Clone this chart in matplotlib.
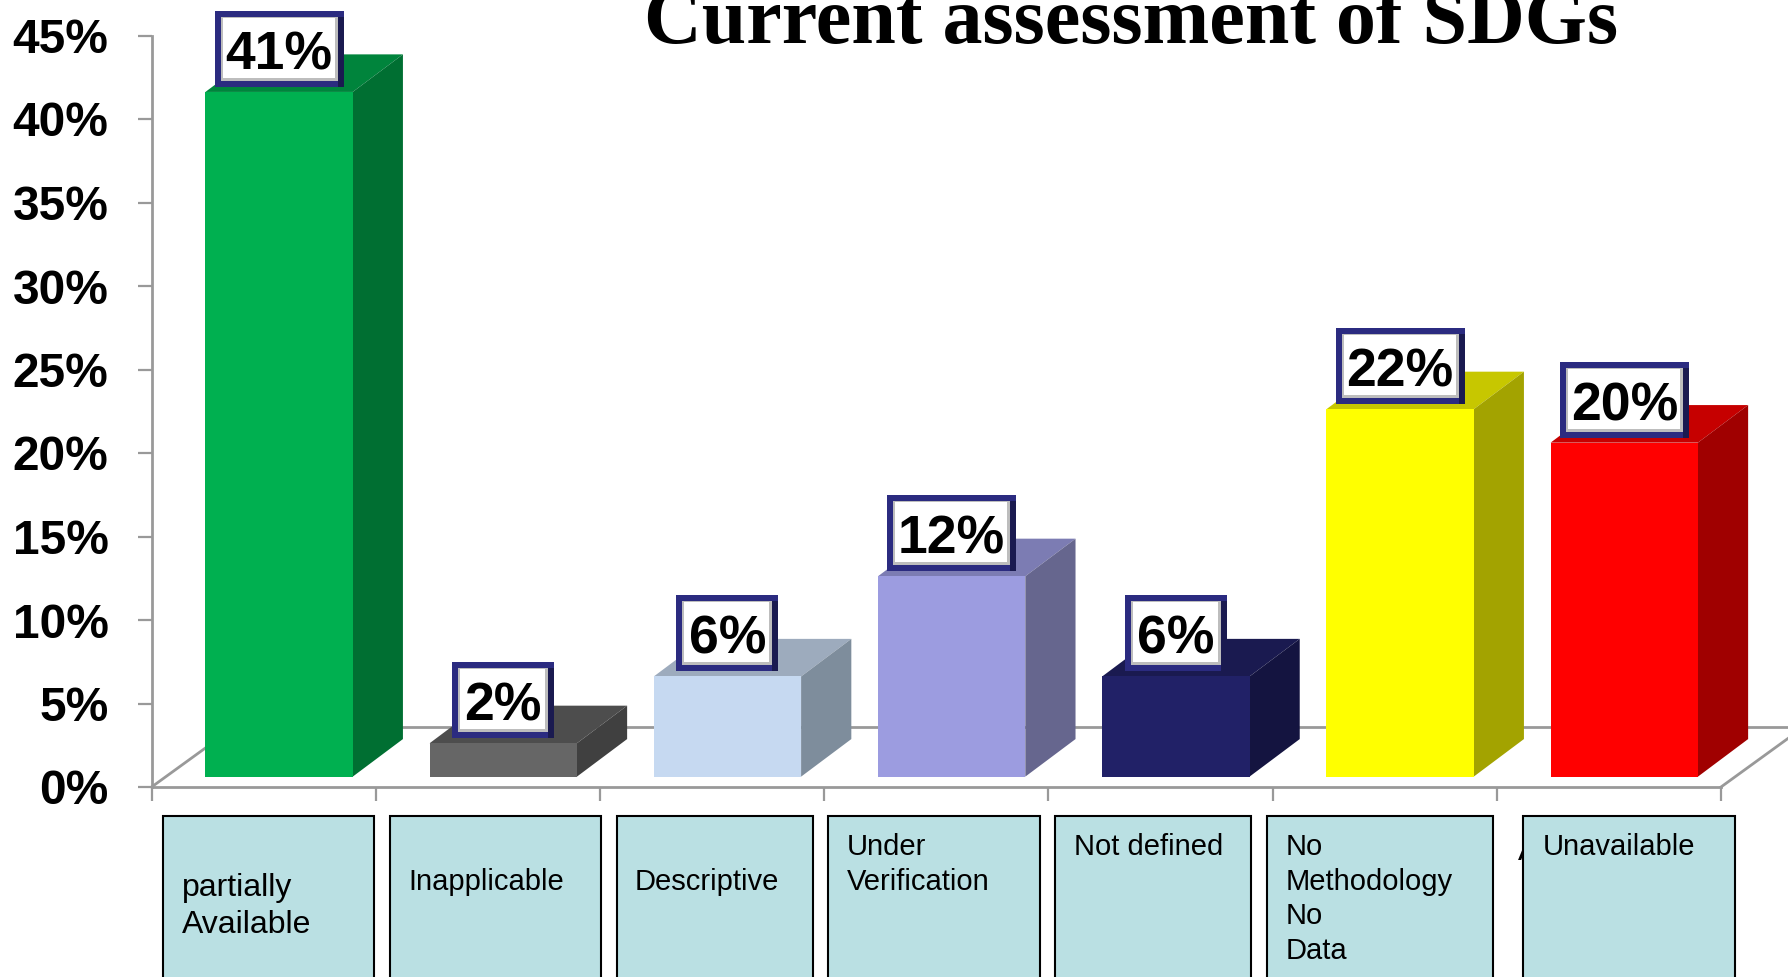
import matplotlib
matplotlib.use("Agg")
import matplotlib.pyplot as plt
from matplotlib.patches import Rectangle

plt.rcParams['font.family'] = ['Liberation Sans', 'DejaVu Sans']

# donnees du graphique
valeurs = [41, 2, 6, 12, 6, 22, 20]
etiquettes = ["41%", "2%", "6%", "12%", "6%", "22%", "20%"]
graduations = [0, 5, 10, 15, 20, 25, 30, 35, 40, 45]
couleurs = ["#00B050", "#666666", "#C6D9F1", "#9C9CE0", "#212167", "#FFFF00", "#FF0000"]
cotes = ["#006F32", "#404040", "#7E8D9C", "#66668E", "#141440", "#A3A300", "#A00000"]
dessus = ["#00843C", "#4D4D4D", "#9DABBD", "#7C7CB3", "#1A1A50", "#C7C700", "#C60000"]

categories = ["partially\nAvailable", "Inapplicable", "Descriptive", "Under\nVerification",
              "Not defined", "No\nMethodology\nNo\nData", "Unavailable"]
boites_x = [(163, 374), (390, 601), (617, 813), (828, 1040), (1055, 1251), (1267, 1493), (1523, 1735)]
textes_pos = [(182, 873), (408, 868), (635, 868), (847, 833), (1074, 833), (1286, 833), (1543, 833)]
textes_taille = [23, 21, 21, 21, 21, 21, 21]

# echelles (pixels de la figure)
W, H = 1788, 977
px_cat = 224.2
px_pct = 16.7
x0, y0 = 151.6, 787.0

marge = 0.24
largeur = 0.657
prof_x = 0.224
prof_y = 2.25
base = 0.62
sol_x = 0.37
sol_y = 3.6
gris = "#999999"

fig = plt.figure(figsize=(W / 100, H / 100), dpi=100, facecolor="white")
ax = fig.add_axes([0, 0, 1, 1])
ax.set_xlim(-x0 / px_cat, (W - x0) / px_cat)
ax.set_ylim(-(H - y0) / px_pct, y0 / px_pct)
ax.patch.set_visible(False)

for s in ["top", "right"]:
    ax.spines[s].set_visible(False)
for s in ["left", "bottom"]:
    ax.spines[s].set_position(("data", 0))
    ax.spines[s].set_color(gris)
    ax.spines[s].set_linewidth(2)
ax.spines["left"].set_bounds(0, 45)
ax.spines["bottom"].set_bounds(0, len(valeurs))

ax.set_xticks(range(len(valeurs) + 1))
ax.set_xticklabels([])
ax.set_yticks(graduations)
ax.set_yticklabels([str(g) + "%" for g in graduations], fontsize=34.5, fontweight="bold", color="black")
ax.tick_params(axis="both", direction="out", length=10, width=1.6, color=gris)
ax.tick_params(axis="y", pad=21)

# plancher en perspective
n = len(valeurs)
ax.plot([0, sol_x], [0, sol_y], color=gris, lw=2, zorder=1)
ax.plot([n, n + sol_x], [0, sol_y], color=gris, lw=2, zorder=1)
ax.plot([sol_x, n + sol_x + 1], [sol_y, sol_y], color=gris, lw=2, zorder=1)

# barres 3D et etiquettes
for i in range(n):
    g = i + marge
    d = g + largeur
    h = valeurs[i] + base
    ax.fill([g, d, d + prof_x, g + prof_x], [h, h, h + prof_y, h + prof_y], color=dessus[i], lw=0, zorder=3)
    ax.fill([d, d + prof_x, d + prof_x, d], [base, base + prof_y, h + prof_y, h], color=cotes[i], lw=0, zorder=3)
    ax.fill([g, d, d, g], [base, base, h, h], color=couleurs[i], lw=0, zorder=3)

    w_box = (129 if len(etiquettes[i]) == 3 else 102) / px_cat
    h_box = 76 / px_pct
    cx = (g + d) / 2
    bas = h + 5 / px_pct
    ex = 6 / px_cat
    ey = 6 / px_pct
    ax.add_patch(Rectangle((cx - w_box / 2, bas), w_box, h_box, fc="#2B2B80", ec="none", zorder=5))
    ax.add_patch(Rectangle((cx + w_box / 2 - ex, bas), ex, h_box - ey, fc="#1A1A50", ec="none", zorder=5))
    ax.add_patch(Rectangle((cx - w_box / 2 + ex, bas + ey), w_box - 2 * ex, h_box - 2 * ey, fc="#BDBDBD", ec="none", zorder=6))
    ax.add_patch(Rectangle((cx - w_box / 2 + ex + 2 / px_cat, bas + ey + 3 / px_pct), w_box - 2 * ex - 5 / px_cat,
                           h_box - 2 * ey - 4 / px_pct, fc="white", ec="none", zorder=7))
    ax.text(cx, bas + h_box / 2 - 1 / px_pct, etiquettes[i], ha="center", va="center_baseline",
            fontsize=38.5, fontweight="bold", color="black", zorder=8)

# calque pour le titre et les boites (coordonnees en pixels)
calque = fig.add_axes([0, 0, 1, 1])
calque.set_xlim(0, W)
calque.set_ylim(H, 0)
calque.axis("off")

calque.text(1131, 43, "Current assessment of SDGs", ha="center", va="baseline",
            family="Liberation Serif", fontweight="bold", fontsize=57.6, color="black")

# morceau de lettre qui depasse derriere la derniere boite
calque.text(1518, 860, "A", ha="left", va="baseline", fontsize=23, color="black", zorder=1)

for i in range(len(categories)):
    a, b = boites_x[i]
    calque.add_patch(Rectangle((a, 816), b - a, H - 816 + 10, fc="#BAE0E3", ec="black", lw=1.5, zorder=2))
    calque.text(textes_pos[i][0], textes_pos[i][1], categories[i], ha="left", va="top",
                fontsize=textes_taille[i], color="black", linespacing=1.3, zorder=3)

fig.savefig("out.png", dpi=100)
plt.close()
